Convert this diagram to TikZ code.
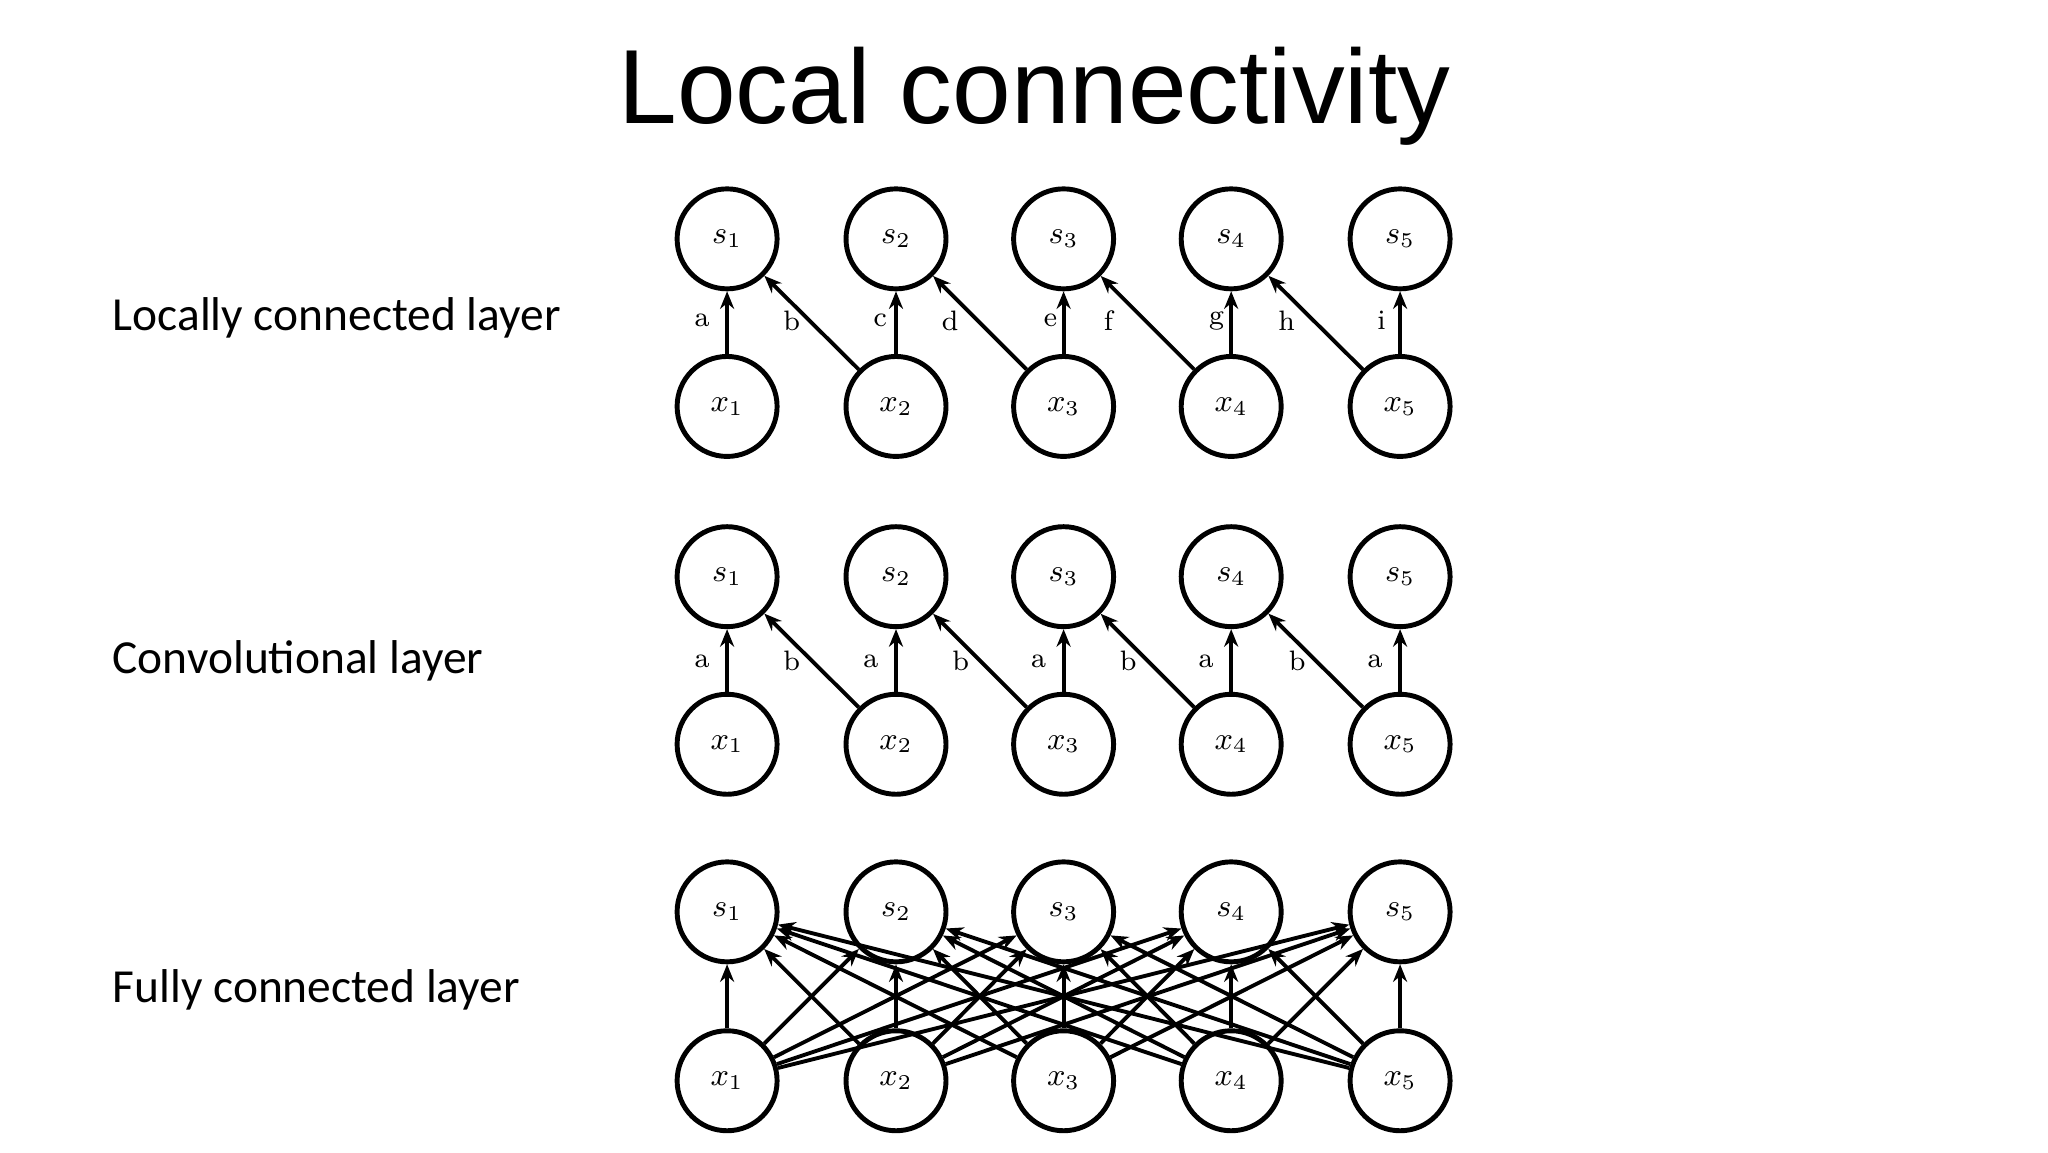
\documentclass[tikz,border=0pt]{standalone}
\usepackage{fontspec}
\setmainfont{Latin Modern Roman}
\newfontfamily\titlefont{Liberation Sans}
\newfontfamily\labfont{Carlito}
\usetikzlibrary{arrows.meta}
\begin{document}
\begin{tikzpicture}[x=0.0132cm,y=-0.0132cm,
  unit/.style={circle,draw,line width=1.4pt,minimum size=1.0cm,inner sep=0pt,font=\fontsize{9}{9}\selectfont},
  arr/.style={-{Stealth[length=5pt,width=4pt]},line width=1.1pt},
  el/.style={font=\fontsize{8}{8}\selectfont},
  side/.style={anchor=west,font=\labfont\fontsize{13.5}{14}\selectfont}]
\useasboundingbox (0,0) rectangle (1552,873);
\node[font=\titlefont\fontsize{30}{30}\selectfont] (title) at (784,73) {Local connectivity};
\node[side] (l1) at (76,241) {Locally connected layer};
\node[side] (l2) at (76,501) {Convolutional layer};
\node[side] (l3) at (76,750) {Fully connected layer};
\foreach \r/\ys/\yx in {A/181/308,B/437/564,C/691/819}{
  \foreach \i/\xx in {1/551,2/679,3/806,4/933,5/1061}{
    \node[unit] (s\r\i) at (\xx,\ys) {$s_{\i}$};
    \node[unit] (x\r\i) at (\xx,\yx) {$x_{\i}$};
  }
}
% locally connected
\foreach \i in {1,...,5}{\draw[arr] (xA\i) -- (sA\i);}
\foreach \i [evaluate=\i as \j using int(\i+1)] in {1,...,4}{\draw[arr] (xA\j) -- (sA\i);}
\foreach \t/\x in {a/532,b/600,c/667,d/720,e/796,f/840,g/922,h/975,i/1047}{\node[el] (lA\t) at (\x,243) {\t};}
% convolutional
\foreach \i in {1,...,5}{\draw[arr] (xB\i) -- (sB\i);}
\foreach \i [evaluate=\i as \j using int(\i+1)] in {1,...,4}{\draw[arr] (xB\j) -- (sB\i);}
\foreach \t/\x/\n in {a/532/1,b/600/2,a/660/3,b/728/4,a/787/5,b/855/6,a/914/7,b/983/8,a/1042/9}{\node[el] (lB\n) at (\x,501) {\t};}
% fully connected
\foreach \i in {1,...,5}{\foreach \j in {1,...,5}{\draw[arr] (xC\j) -- (sC\i);}}
\end{tikzpicture}
\end{document}
